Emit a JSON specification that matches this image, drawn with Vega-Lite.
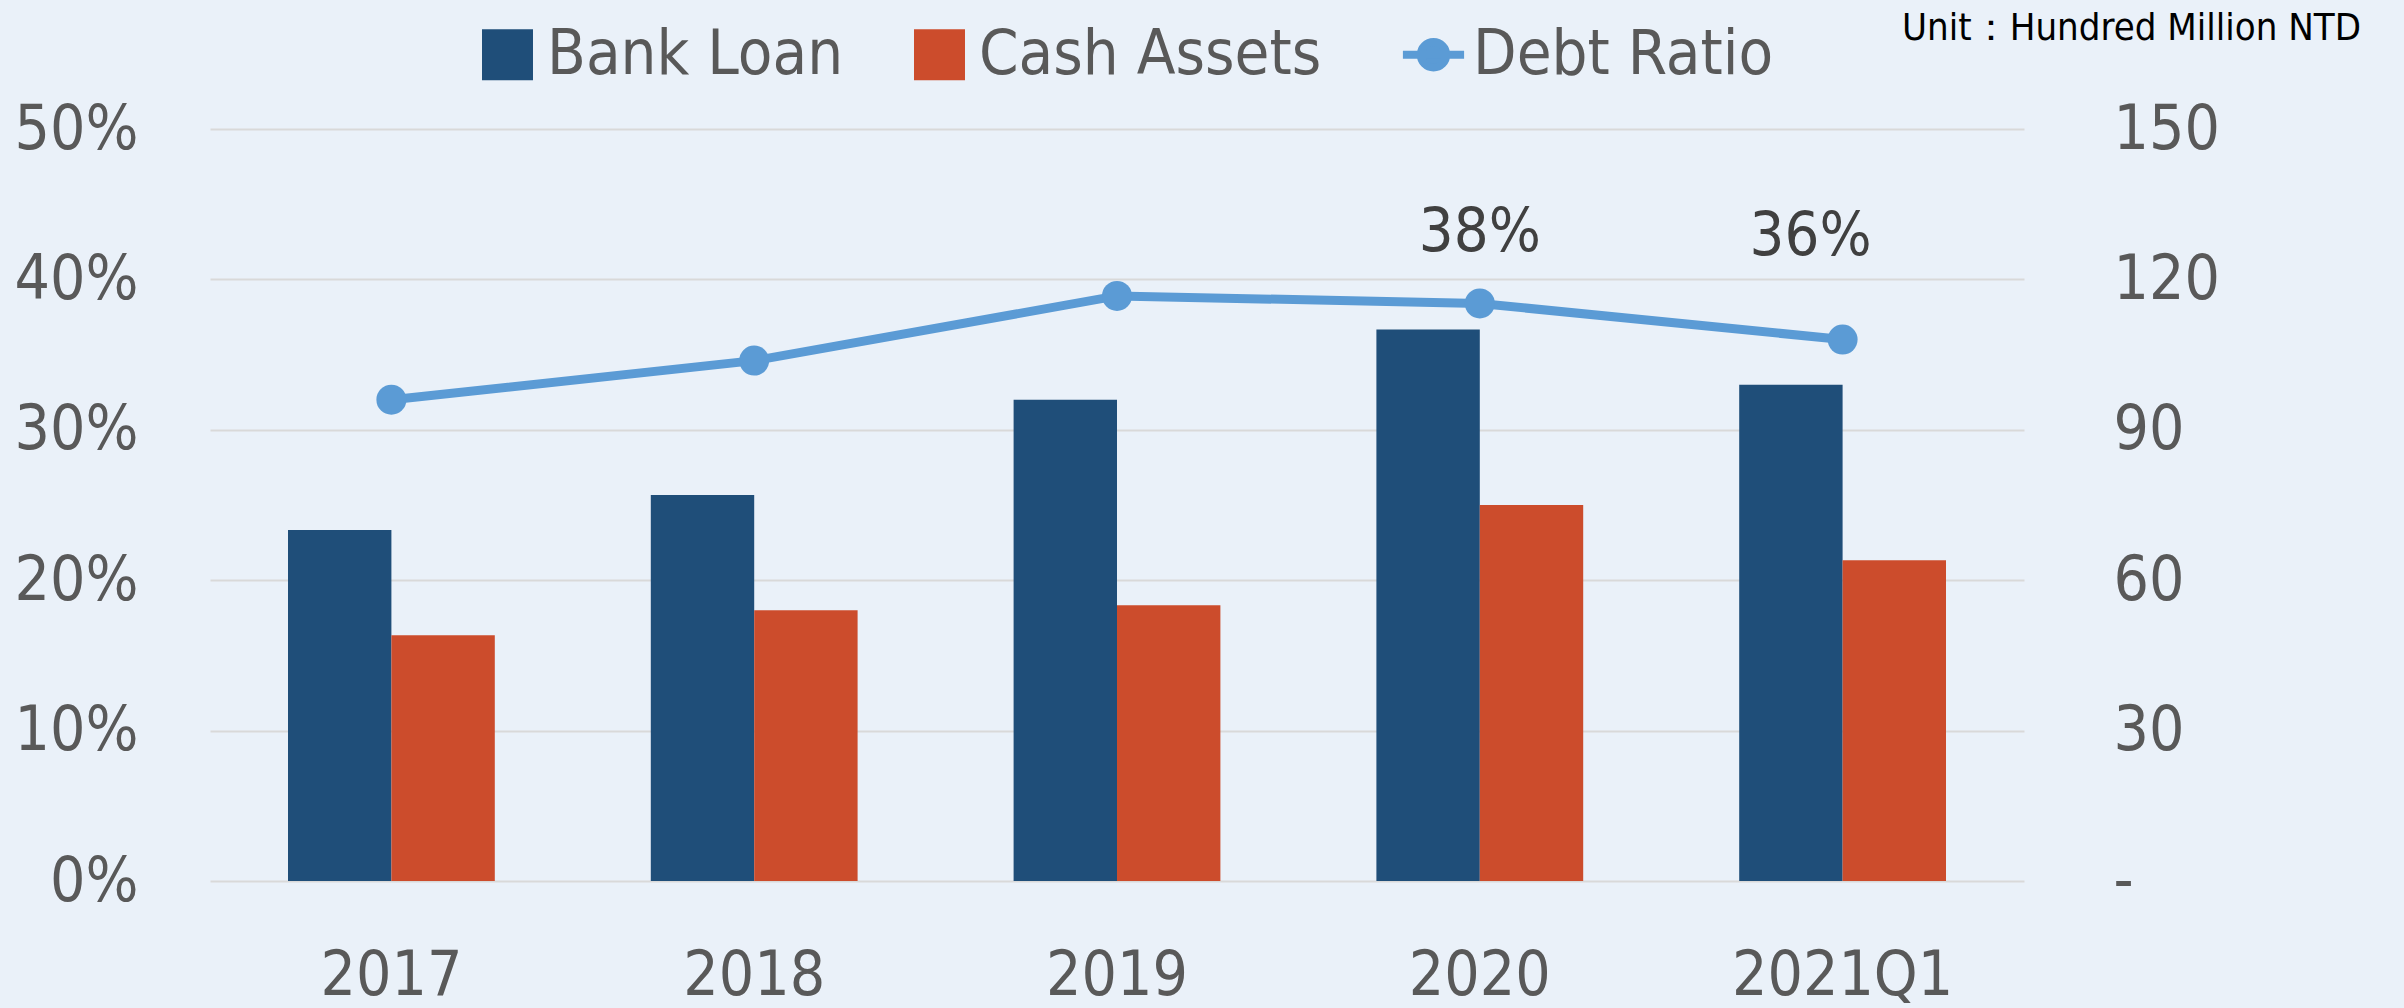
{
  "$schema": "https://vega.github.io/schema/vega-lite/v6.json",
  "width": 1814,
  "height": 752,
  "autosize": {"type": "none"},
  "padding": {"left": 210, "top": 129, "right": 380, "bottom": 127},
  "background": "#EAF1F9",
  "config": {
    "view": {"stroke": null},
    "font": "DejaVu Sans Condensed, DejaVu Sans, sans-serif",
    "text": {"font": "DejaVu Sans Condensed, DejaVu Sans, sans-serif"},
    "axis": {"labelFont": "DejaVu Sans Condensed, DejaVu Sans, sans-serif", "labelColor": "#595959", "domain": false, "ticks": false, "titleFontSize": 0, "labelLimit": 0},
    "axisX": {"labelFontSize": 62, "labelPadding": 64, "labelAngle": 0, "grid": false}
  },
  "title": {
    "text": "Unit：Hundred Million NTD",
    "anchor": "end",
    "frame": "group",
    "font": "DejaVu Sans Condensed, DejaVu Sans, sans-serif",
    "fontSize": 38,
    "fontWeight": "normal",
    "color": "#000000",
    "dx": 337,
    "offset": -25
  },
  "datasets": {
    "money": [
      {"year": "2017", "series": "Bank Loan", "value": 70},
      {"year": "2017", "series": "Cash Assets", "value": 49},
      {"year": "2018", "series": "Bank Loan", "value": 77},
      {"year": "2018", "series": "Cash Assets", "value": 54},
      {"year": "2019", "series": "Bank Loan", "value": 96},
      {"year": "2019", "series": "Cash Assets", "value": 55},
      {"year": "2020", "series": "Bank Loan", "value": 110},
      {"year": "2020", "series": "Cash Assets", "value": 75},
      {"year": "2021Q1", "series": "Bank Loan", "value": 99},
      {"year": "2021Q1", "series": "Cash Assets", "value": 64}
    ],
    "ratio": [
      {"year": "2017", "ratio": 0.320},
      {"year": "2018", "ratio": 0.346},
      {"year": "2019", "ratio": 0.389},
      {"year": "2020", "ratio": 0.384},
      {"year": "2021Q1", "ratio": 0.360}
    ]
  },
  "layer": [
    {
      "data": {"name": "money"},
      "mark": {"type": "bar"},
      "encoding": {
        "x": {"field": "year", "type": "nominal", "sort": null, "title": null,
              "scale": {"paddingInner": 0.43, "paddingOuter": 0.215}},
        "xOffset": {"field": "series", "type": "nominal", "sort": ["Bank Loan", "Cash Assets"], "scale": {"paddingInner": 0, "paddingOuter": 0}},
        "y": {"field": "value", "type": "quantitative", "title": null,
              "scale": {"domain": [0, 150], "nice": false},
              "axis": {"orient": "right", "values": [0, 30, 60, 90, 120, 150], "labelExpr": "datum.value === 0 ? '-' : datum.label",
                       "grid": false, "labelAlign": "left", "labelPadding": 89, "labelFontSize": 62, "labelBaseline": "middle"}},
        "color": {"field": "series", "type": "nominal",
                  "scale": {"domain": ["Bank Loan", "Cash Assets", "Debt Ratio"], "range": ["#1F4E79", "#CC4C2C", "#5B9BD5"]},
                  "legend": {
                    "orient": "none", "legendX": 266, "legendY": -106, "direction": "horizontal", "title": null,
                    "labelFontSize": 63, "labelColor": "#595959", "labelFont": "DejaVu Sans Condensed, DejaVu Sans, sans-serif", "labelLimit": 0,
                    "symbolSize": 2600, "labelOffset": 8, "columnPadding": 64,
                    "encode": {"symbols": {"update": {
                      "shape": {"signal": "datum.value === 'Debt Ratio' ? 'M-1.2,0L1.2,0M-0.5,0A0.5,0.5,0,1,1,0.5,0A0.5,0.5,0,1,1,-0.5,0Z' : 'square'"},
                      "strokeWidth": {"signal": "datum.value === 'Debt Ratio' ? 8 : 0"},
                      "fill": {"scale": "color", "field": "value"},
                      "stroke": {"scale": "color", "field": "value"},
                      "opacity": {"value": 1}
                    }}}
                  }}
      }
    },
    {
      "data": {"name": "ratio"},
      "encoding": {
        "x": {"field": "year", "type": "nominal", "sort": null, "title": null},
        "y": {"field": "ratio", "type": "quantitative", "title": null,
              "scale": {"domain": [0, 0.5], "nice": false},
              "axis": {"orient": "left", "values": [0, 0.1, 0.2, 0.3, 0.4, 0.5], "format": ".0%", "grid": true,
                       "gridColor": "#D9D9D9", "gridWidth": 2, "labelPadding": 72, "labelFontSize": 62, "labelBaseline": "middle"}}
      },
      "layer": [
        {"mark": {"type": "line", "strokeWidth": 9}, "encoding": {"color": {"datum": "Debt Ratio"}}},
        {"mark": {"type": "point", "filled": true, "size": 900, "opacity": 1}, "encoding": {"color": {"datum": "Debt Ratio"}}},
        {"transform": [{"filter": "datum.year === '2020'"}],
         "mark": {"type": "text", "fontSize": 61, "color": "#404040", "dy": -70, "baseline": "middle"},
         "encoding": {"text": {"field": "ratio", "type": "quantitative", "format": ".0%"}}},
        {"transform": [{"filter": "datum.year === '2021Q1'"}],
         "mark": {"type": "text", "fontSize": 61, "color": "#404040", "dy": -103, "dx": -32, "baseline": "middle"},
         "encoding": {"text": {"field": "ratio", "type": "quantitative", "format": ".0%"}}}
      ]
    }
  ],
  "resolve": {"scale": {"y": "independent"}}
}
